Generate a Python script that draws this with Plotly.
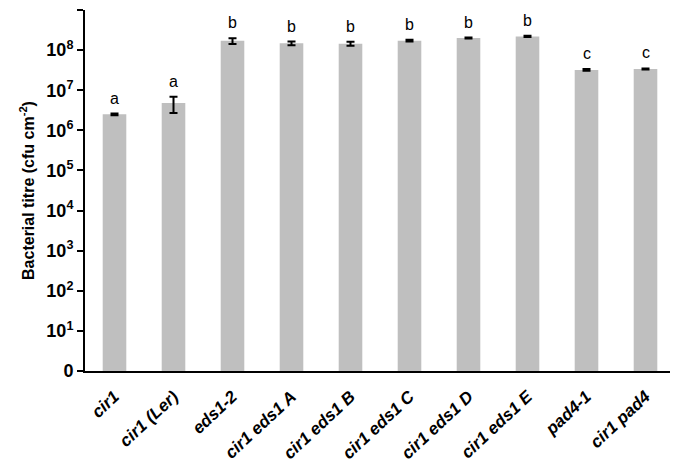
import math
import plotly.graph_objects as go

categories = ["cir1", "cir1 (Ler)", "eds1-2", "cir1 eds1 A", "cir1 eds1 B",
              "cir1 eds1 C", "cir1 eds1 D", "cir1 eds1 E", "pad4-1", "cir1 pad4"]
titre = [2.5e6, 4.8e6, 1.7e8, 1.48e8, 1.45e8, 1.72e8, 2.0e8, 2.2e8, 3.2e7, 3.4e7]
err = [0.12e6, 2.1e6, 0.28e8, 0.15e8, 0.17e8, 0.08e8, 0.06e8, 0.07e8, 0.16e7, 0.1e7]
letters = ["a", "a", "b", "b", "b", "b", "b", "b", "c", "c"]
tick_vals = [10 ** k for k in range(10)]
tick_text = ["0"] + [f"10<sup>{k}</sup>" for k in range(1, 10)]

font = "Liberation Sans, Arial, sans-serif"

fig = go.Figure()
fig.add_trace(go.Bar(
    x=categories, y=titre,
    marker=dict(color="#BFBFBF", line=dict(width=0)),
    error_y=dict(type="data", array=err, color="black", thickness=2, width=4),
    width=0.4,
))

for c, v, e, t in zip(categories, titre, err, letters):
    fig.add_annotation(x=c, y=math.log10(v + e), text=t,
                       showarrow=False, yanchor="bottom", yshift=5,
                       font=dict(family=font, size=16, color="black"))

fig.update_layout(
    width=670, height=461,
    margin=dict(l=77, r=3, t=2, b=98, autoexpand=False),
    plot_bgcolor="white", paper_bgcolor="white",
    showlegend=False,
    font=dict(family=font, color="black"),
    xaxis=dict(
        showline=True, linecolor="black", linewidth=2,
        ticks="", tickangle=-43, automargin=False, ticklabelstandoff=7,
        tickfont=dict(family=font, size=17, weight="bold", style="italic", color="black"),
    ),
    yaxis=dict(
        type="log", range=[0, 9], automargin=False,
        tickvals=tick_vals, ticktext=tick_text,
        showline=True, linecolor="black", linewidth=2,
        ticks="outside", ticklen=6, tickwidth=2, tickcolor="black",
        showgrid=False, zeroline=False,
        tickfont=dict(family=font, size=18, weight="bold", color="black"),
        title=dict(text="Bacterial titre (cfu cm<sup>-2</sup>)", standoff=8,
                   font=dict(family=font, size=16, weight="bold", color="black")),
    ),
)

fig.write_html("out.html")
